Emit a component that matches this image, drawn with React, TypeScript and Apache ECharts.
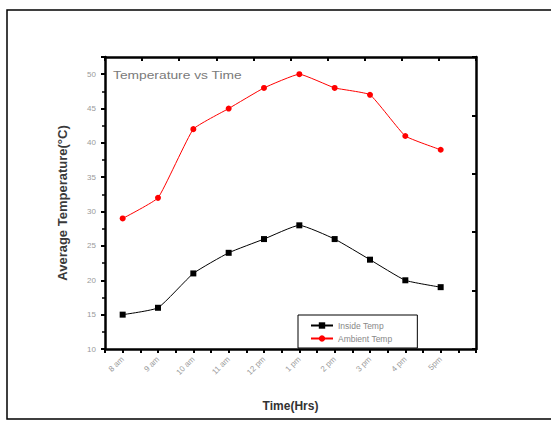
import React, { useEffect, useRef } from "react";
import * as echarts from "echarts";

// Hourly readings
const timeLabels = ["8 am", "9 am", "10 am", "11 am", "12 pm", "1 pm", "2 pm", "3 pm", "4 pm", "5pm"];
const insideTemp = [15, 16, 21, 24, 26, 28, 26, 23, 20, 19];
const ambientTemp = [29, 32, 42, 45, 48, 50, 48, 47, 41, 39];

const toPoints = (vals: number[]) => vals.map((v, i) => [i + 1, v]);

export default function App() {
  const ref = useRef<HTMLDivElement>(null);

  useEffect(() => {
    if (!ref.current) return;
    const chart = echarts.init(ref.current, null, { renderer: "svg" });
    const axisLine = { show: true, lineStyle: { color: "#000", width: 2.5 } };
    const tickLabelStyle = { color: "#9a9a9a", fontSize: 8, fontFamily: "Liberation Sans, Arial, sans-serif" };

    chart.setOption({
      animation: false,
      backgroundColor: "#fff",
      grid: { left: 105, top: 57, width: 371, height: 292, containLabel: false },
      xAxis: [
        {
          type: "value",
          min: 0.5,
          max: 11,
          interval: 0.5,
          position: "bottom",
          axisLine,
          axisTick: { show: true, inside: false, length: 4, lineStyle: { color: "#000", width: 2 } },
          splitLine: { show: false },
          axisLabel: {
            ...tickLabelStyle,
            rotate: 45,
            margin: 9,
            showMinLabel: true,
            showMaxLabel: true,
            formatter: (v: number) =>
              Number.isInteger(v) && v >= 1 && v <= timeLabels.length ? timeLabels[v - 1] : "",
          },
          name: "Time(Hrs)",
          nameLocation: "middle",
          nameGap: 51,
          nameTextStyle: { color: "#333", fontSize: 12, fontWeight: "bold", fontFamily: "Liberation Sans, Arial, sans-serif" },
        },
        {
          type: "value",
          min: 0,
          max: 10,
          interval: 1,
          position: "top",
          axisLine,
          axisTick: { show: true, inside: true, length: 4, lineStyle: { color: "#000", width: 2 } },
          axisLabel: { show: false },
          splitLine: { show: false },
        },
      ],
      yAxis: [
        {
          type: "value",
          min: 10,
          max: 52.5,
          interval: 5,
          position: "left",
          axisLine,
          axisTick: { show: true, inside: false, length: 4, lineStyle: { color: "#000", width: 2 } },
          minorTick: { show: true, splitNumber: 2, length: 3, lineStyle: { color: "#000", width: 1.5 } },
          splitLine: { show: false },
          axisLabel: {
            ...tickLabelStyle,
            margin: 9,
            formatter: (v: number) => (v % 5 === 0 ? String(v) : ""),
          },
          name: "Average Temperature(°C)",
          nameLocation: "middle",
          nameRotate: 90,
          nameGap: 36,
          nameTextStyle: { color: "#3a3a3a", fontSize: 13, fontWeight: "bold", fontFamily: "Liberation Sans, Arial, sans-serif" },
        },
        {
          type: "value",
          min: 0,
          max: 5,
          interval: 1,
          position: "right",
          axisLine,
          axisTick: { show: true, inside: true, length: 4, lineStyle: { color: "#000", width: 2 } },
          axisLabel: { show: false },
          splitLine: { show: false },
        },
      ],
      legend: {
        left: 298,
        top: 315,
        orient: "vertical",
        padding: [6, 25, 5, 12],
        itemGap: 4,
        itemWidth: 22,
        itemHeight: 8,
        borderColor: "#000",
        borderWidth: 1,
        backgroundColor: "#fff",
        textStyle: { color: "#888", fontSize: 8.5, fontFamily: "Liberation Sans, Arial, sans-serif" },
        data: ["Inside Temp", "Ambient Temp"],
      },
      graphic: [
        {
          type: "rect",
          shape: { x: 7, y: 10, width: 560, height: 409 },
          style: { fill: "none", stroke: "#000", lineWidth: 1.5 },
          silent: true,
        },
        {
          type: "text",
          x: 113,
          y: 75,
          scaleX: 1.2,
          style: {
            text: "Temperature vs Time",
            fill: "#7a7a7a",
            fontSize: 11.5,
            fontFamily: "Liberation Sans, Arial, sans-serif",
            verticalAlign: "middle",
          },
        },
      ],
      series: [
        {
          name: "Inside Temp",
          type: "line",
          xAxisIndex: 0,
          yAxisIndex: 0,
          data: toPoints(insideTemp),
          smooth: 0.15,
          symbol: "rect",
          symbolSize: 6,
          lineStyle: { color: "#000", width: 1 },
          itemStyle: { color: "#000" },
        },
        {
          name: "Ambient Temp",
          type: "line",
          xAxisIndex: 0,
          yAxisIndex: 0,
          data: toPoints(ambientTemp),
          smooth: 0.12,
          symbol: "circle",
          symbolSize: 6,
          lineStyle: { color: "#ff0000", width: 1 },
          itemStyle: { color: "#ff0000" },
        },
      ],
    });

    return () => chart.dispose();
  }, []);

  return (
    <div
      ref={ref}
      style={{ position: "fixed", left: 0, top: 0, width: 551, height: 421, background: "#fff" }}
    />
  );
}
